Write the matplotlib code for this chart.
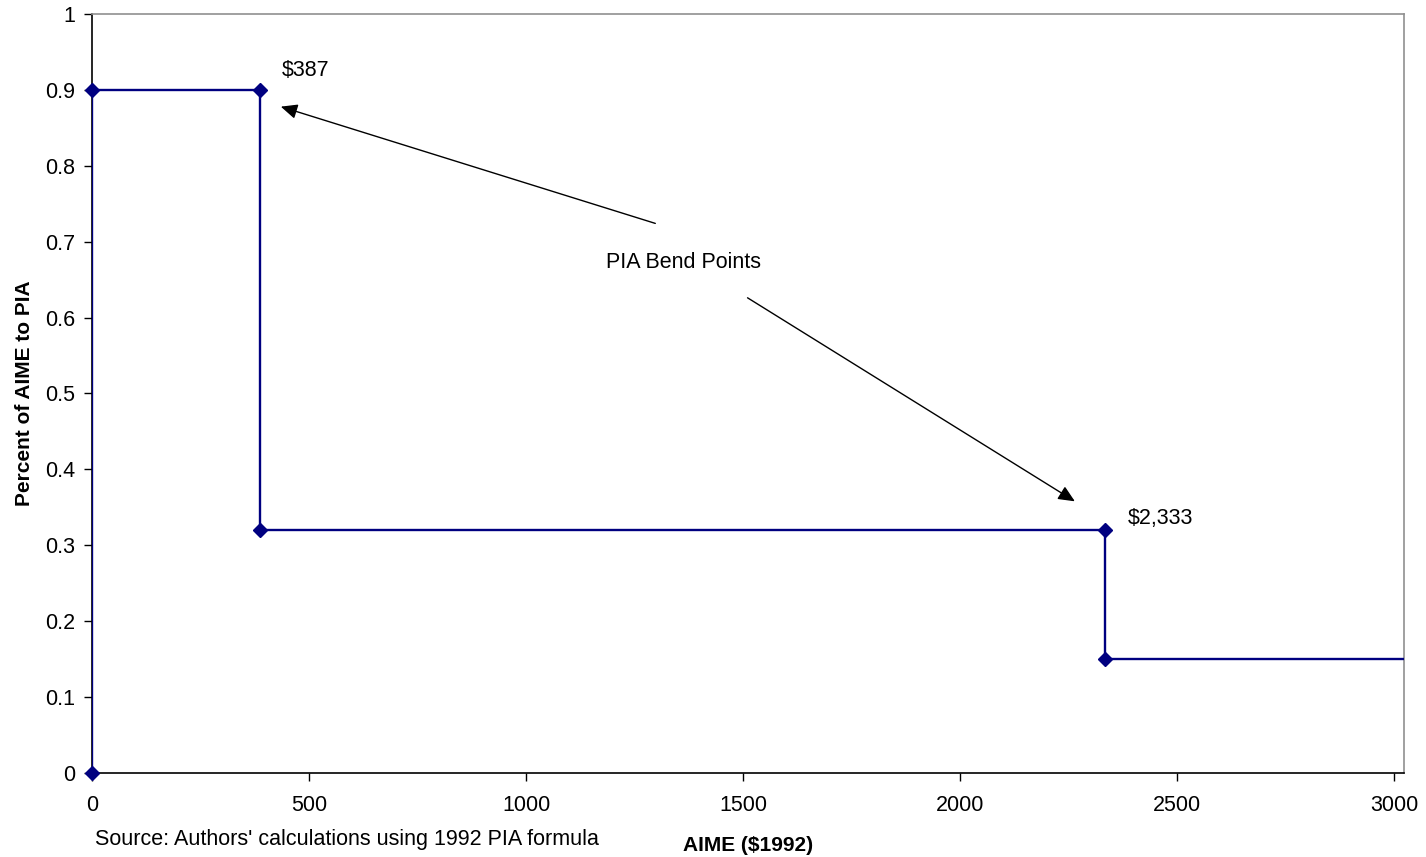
import numpy as np
import matplotlib.pyplot as plt

plt.rcParams['font.family'] = ['Liberation Sans', 'DejaVu Sans']

# step schedule of the 1992 PIA formula
aime = [0, 0, 387, 387, 2333, 2333, 3200]
rate = [0, 0.9, 0.9, 0.32, 0.32, 0.15, 0.15]
x_ticks = [0, 500, 1000, 1500, 2000, 2500, 3000]
y_ticks = [0, 0.1, 0.2, 0.3, 0.4, 0.5, 0.6, 0.7, 0.8, 0.9, 1]

fig = plt.figure(figsize=(14.26, 8.57), dpi=100)
ax = fig.add_axes([0.0645, 0.098, 0.9201, 0.8857])

# line (clipped at the right edge) and markers (not clipped, last one off-chart)
ax.plot(aime, rate, color='#000080', lw=1.7, zorder=3)
ax.plot(aime[:-1], rate[:-1], ls='none', marker='D', ms=7, color='#000080',
        clip_on=False, zorder=4)
ax.set_xlim(0, 3023)
ax.set_ylim(0, 1)

ax.set_xticks(x_ticks)
ax.set_yticks(y_ticks)
ax.set_yticklabels(['0', '0.1', '0.2', '0.3', '0.4', '0.5', '0.6', '0.7', '0.8', '0.9', '1'])
ax.tick_params(direction='out', length=6, width=1, labelsize=15.5, colors='black', pad=6)
ax.tick_params(axis='x', pad=10)

ax.spines['left'].set_color('black')
ax.spines['bottom'].set_color('black')
ax.spines['top'].set_color('#909090')
ax.spines['right'].set_color('#909090')
for s in ax.spines.values():
    s.set_linewidth(1.2)

ax.set_xlabel('AIME ($1992)', fontsize=15, fontweight='bold', labelpad=14)
ax.set_ylabel('Percent of AIME to PIA', fontsize=15, fontweight='bold', labelpad=8)

# annotations
ax.text(438, 0.926, '$387', fontsize=15.5, va='center', ha='left')
ax.text(2387, 0.335, '$2,333', fontsize=15.5, va='center', ha='left')
ax.text(1362, 0.672, 'PIA Bend Points', fontsize=15.5, va='center', ha='center')
arrow = dict(arrowstyle='-|>,head_length=1.0,head_width=0.45', color='black', lw=1)
ax.annotate('', xy=(429, 0.879), xytext=(1304, 0.723), arrowprops=arrow)
ax.annotate('', xy=(2270, 0.356), xytext=(1505, 0.628), arrowprops=arrow)

fig.text(0.0665, 0.014, "Source: Authors' calculations using 1992 PIA formula", fontsize=15.5)

plt.savefig('out.png', dpi=100)
